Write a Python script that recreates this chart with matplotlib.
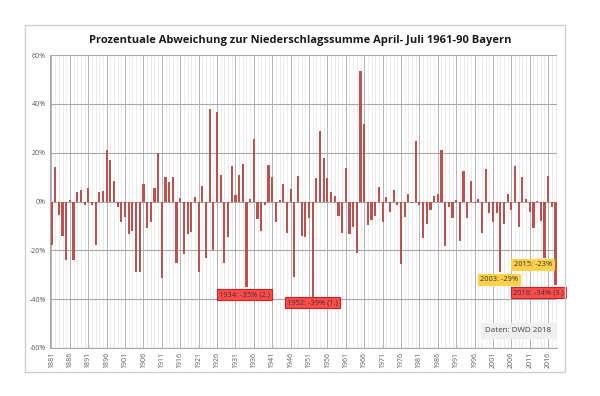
import numpy as np
import matplotlib
matplotlib.use("Agg")
import matplotlib.pyplot as plt
from matplotlib.patches import Rectangle

# Prozentuale Abweichung April-Juli zum Mittel 1961-90, Bayern
years = list(range(1881, 2019))
values = [
    -17.8, 14.0, -5.5, -14.0, -24.0, 0.7, -24.0, 3.8, 4.8, -1.6,    # 1881-1890
    5.5, -1.6, -17.8, 3.8, 4.1, 21.0, 17.0, 8.2, -2.3, -8.6,        # 1891-1900
    -6.2, -13.4, -12.0, -29.0, -28.8, 7.0, -11.0, -8.5, 5.5, 20.0,  # 1901-1910
    -31.5, 10.0, 8.0, 10.0, -25.0, 1.6, -21.6, -13.4, -12.6, 1.9,   # 1911-1920
    -29.0, 6.4, -23.0, 37.7, -20.0, 36.6, 11.0, -25.0, -14.4, 14.7, # 1921-1930
    2.6, 10.8, 15.5, -35.0, 1.2, 25.8, -7.0, -12.0, -1.5, 14.8,     # 1931-1940
    9.9, -8.6, 0.5, 7.1, -12.7, 5.2, -31.0, 10.4, -14.0, -14.5,     # 1941-1950
    -6.7, -39.0, 9.7, 29.0, 17.7, 9.6, 3.7, 2.2, -6.0, -13.0,       # 1951-1960
    13.6, -13.4, -10.4, -21.0, 53.3, 31.9, -9.7, -7.7, -6.0, 5.9,   # 1961-1970
    -8.6, 1.8, -4.1, 4.8, -1.5, -25.8, -6.3, 2.9, -0.5, 24.7,       # 1971-1980
    -1.5, -15.0, -9.3, -3.3, 2.3, 3.0, 21.0, -18.2, -2.2, -6.6,     # 1981-1990
    0.7, -16.0, 12.3, -6.6, 8.5, -0.7, 1.2, -13.0, 13.3, -4.8,      # 1991-2000
    -8.6, -4.8, -29.0, -9.2, 2.9, -3.4, 14.4, -10.4, 10.0, 1.2,     # 2001-2010
    -4.4, -10.8, 0.4, -8.0, -23.0, 10.5, -2.3, -34.0,               # 2011-2018
]

tick_years = list(range(1881, 2017, 5))
yticks = [-60, -40, -20, 0, 20, 40, 60]

title = "Prozentuale Abweichung zur Niederschlagssumme April- Juli 1961-90 Bayern"

# Hervorgehobene Jahre: (Text, x, y, Stil)
notes = [
    ("1934: -35% (2.)", 1933.5, -38.1, "red"),
    ("1952: -39% (1.)", 1951.9, -41.4, "red"),
    ("2003: -29%", 2002.6, -32.0, "yellow"),
    ("2015: -23%", 2011.8, -25.8, "yellow"),
    ("2018: -34% (3.)", 2013.3, -37.3, "red"),
]

plt.rcParams["font.family"] = ["Open Sans", "DejaVu Sans"]

fig = plt.figure(figsize=(6.0, 3.96), dpi=100)
fig.patches.append(Rectangle((25 / 600, 1 - 372 / 396), 540 / 600, 347 / 396,
                             transform=fig.transFigure, fill=False,
                             edgecolor="#d0d0d0", linewidth=1.0))
ax = fig.add_axes([50 / 600, 1 - 348 / 396, 507 / 600, 293 / 396])

# Gitter
for yr in years:
    ax.axvline(yr, color="#e4e4e4", linewidth=0.5, zorder=0)
for yr in tick_years:
    ax.axvline(yr, color="#b4b4b4", linewidth=0.7, zorder=0)
for v in yticks:
    ax.axhline(v, color="#a8a8a8", linewidth=0.8, zorder=0)

ax.bar(years, values, width=0.58, color="#c0504d", zorder=2)

ax.set_xlim(1880.6, 2018.4)
ax.set_ylim(-60, 60)
ax.set_yticks(yticks)
ax.set_yticklabels([f"{v}%" for v in yticks], fontsize=5, color="#595959")
ax.set_xticks(tick_years)
ax.set_xticklabels([str(y) for y in tick_years], rotation=90, fontsize=5,
                   color="#595959")
ax.tick_params(length=0, pad=3)
for side in ["top", "right"]:
    ax.spines[side].set_visible(False)
for side in ["left", "bottom"]:
    ax.spines[side].set_color("#a8a8a8")
    ax.spines[side].set_linewidth(0.8)

styles = {
    "red": dict(boxstyle="square,pad=0.3", facecolor="#ff4b4b",
                edgecolor="#d02020", linewidth=0.8),
    "yellow": dict(boxstyle="square,pad=0.3", facecolor="#ffd04a",
                   edgecolor="#ffd04a", linewidth=0.8),
}
for text, x, y, st in notes:
    ax.text(x, y, text, fontsize=5.4, color="#333333", ha="center",
            va="center", bbox=styles[st], zorder=5)

ax.text(2007.7, -52.9, "Daten: DWD 2018", fontsize=5.8, color="#404040",
        ha="center", va="center", zorder=5,
        bbox=dict(boxstyle="square,pad=0.5", facecolor="#efefef",
                  edgecolor="#efefef"))

fig.text(0.5, 1 - 41 / 396, title, ha="center", va="center",
         fontsize=8, fontweight="bold", color="#1a1a1a")

fig.savefig("out.png", dpi=100)
